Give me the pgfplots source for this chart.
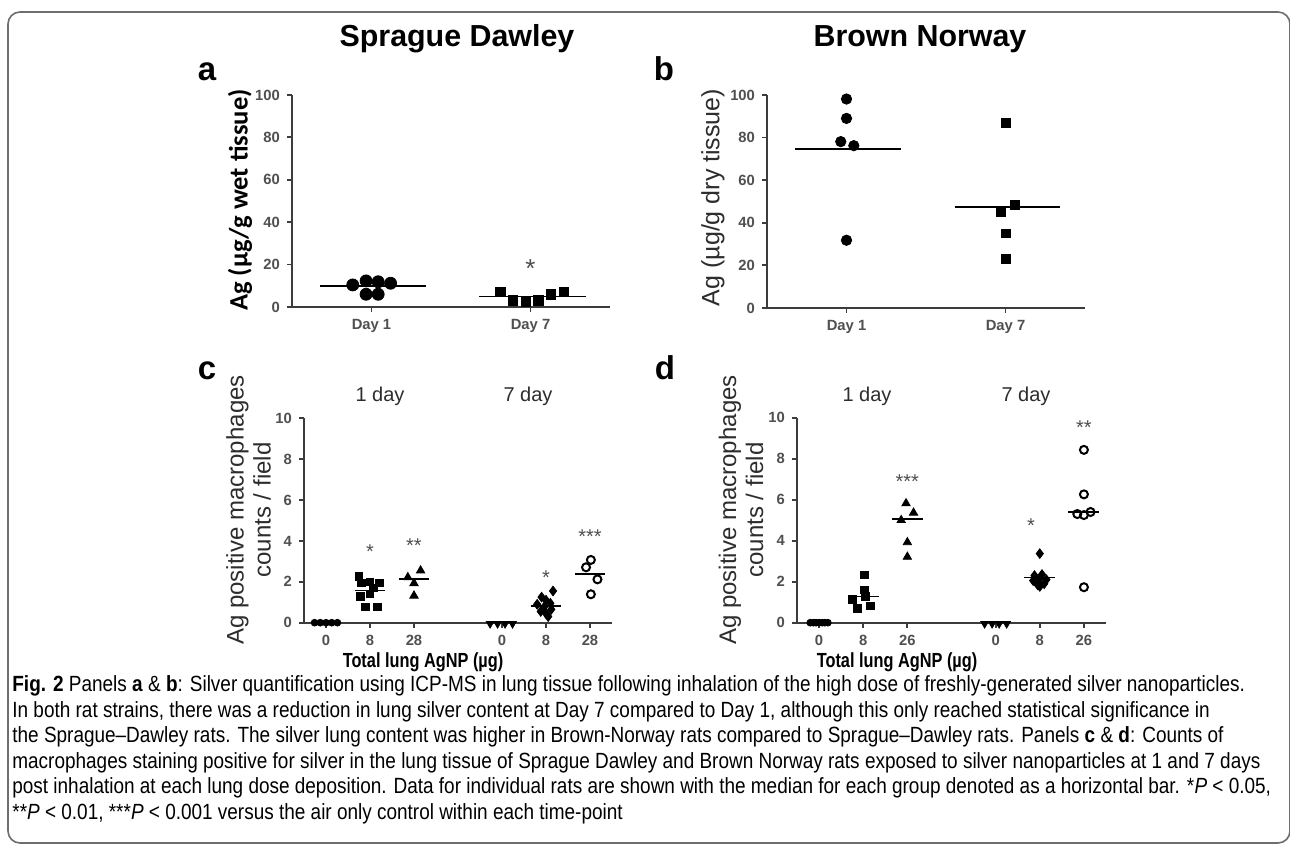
\documentclass[border=0pt]{standalone}
\usepackage{pgfplots}
\pgfplotsset{compat=1.18}
\usepackage{fontspec}
\setmainfont{Liberation Sans}
\newfontfamily\calibri{Carlito}
\newfontfamily\narrowfont[FakeStretch=0.8]{Liberation Sans}
\newfontfamily\capfont[FakeStretch=0.862]{Liberation Sans}
\definecolor{axgray}{RGB}{60,60,60}
\definecolor{tkgray}{RGB}{80,80,80}
\definecolor{labgray}{RGB}{45,45,45}
\definecolor{bordergray}{RGB}{110,110,110}
\pgfplotsset{
  panel/.style={
    scale only axis, anchor=south west, clip=false,
    axis lines*=left,
    axis line style={axgray, line width=1pt, -},
    tick style={axgray, line width=0.9pt},
    tick align=outside,
    major tick length=2.5pt,
    ymin=0,
    tick label style={font=\fontsize{7.4}{8}\selectfont\bfseries, text=tkgray},
    /pgf/number format/assume math mode=true,
  },
  med/.style={black, line width=0.9pt, no marks, forget plot},
  pts/.style={only marks, black, mark options={solid, draw=black, fill=black}},
  opn/.style={only marks, black, mark=o, mark options={solid, draw=black, line width=1pt}},
}
\newcommand{\st}[3]{\node[text=tkgray, font=\fontsize{#3}{#3}\selectfont, anchor=base, inner sep=0pt, yshift=-0.58*#3pt] at (axis cs:#1) {#2};}
\begin{document}
\begin{tikzpicture}
\clip (0,0) rectangle (645pt,427pt);
\useasboundingbox (0,0) rectangle (645pt,427pt);
\fill[white] (0,0) rectangle (645pt,427pt);

% panel a
\begin{axis}[panel, at={(146pt,273.5pt)}, width=159pt, height=106pt,
  xmin=0.5, xmax=2.5, ymax=100, xtick={1,2}, xticklabels={Day 1,Day 7}, ytick={0,20,...,100}]
\addplot[med] coordinates {(0.673,10.05)(1.34,10.05)};
\addplot[med] coordinates {(1.675,4.9)(2.35,4.9)};
\addplot[pts, mark=*, mark size=3pt] coordinates {(0.882,10.4)(0.966,12.3)(1.042,11.9)(1.12,11.2)(0.966,6.0)(1.042,6.0)};
\addplot[pts, mark=square*, mark size=2.4pt] coordinates {(1.81,7.2)(1.89,3.2)(1.97,2.4)(2.048,3.2)(2.128,5.9)(2.21,7.2)};
\st{2,21.1}{*}{13}
\end{axis}

% panel b
\begin{axis}[panel, at={(383.5pt,273pt)}, width=159pt, height=106.5pt,
  xmin=0.5, xmax=2.5, ymax=100, xtick={1,2}, xticklabels={Day 1,Day 7}, ytick={0,20,...,100}]
\addplot[med] coordinates {(0.675,74.6)(1.34,74.6)};
\addplot[med] coordinates {(1.68,47.5)(2.34,47.5)};
\addplot[pts, mark=*, mark size=2.6pt] coordinates {(1,98.1)(1,89.0)(0.964,78.1)(1.046,76.2)(1,31.8)};
\addplot[pts, mark=square*, mark size=2.2pt] coordinates {(2,87)(2.06,48.5)(1.97,45)(2,35)(2,23)};
\end{axis}

% panel c
\begin{axis}[panel, at={(152pt,115.65pt)}, width=154pt, height=102.2pt,
  xmin=0.5, xmax=7.5, ymax=10, xtick={1,2,3,5,6,7}, xticklabels={0,8,28,0,8,28}, ytick={0,2,...,10}]
\addplot[med] coordinates {(1.65,1.57)(2.35,1.57)};
\addplot[med] coordinates {(2.65,2.15)(3.35,2.15)};
\addplot[med] coordinates {(5.65,0.82)(6.35,0.82)};
\addplot[med] coordinates {(6.65,2.37)(7.35,2.37)};
\addplot[pts, mark=*, mark size=1.7pt] coordinates {(0.74,0)(0.87,0)(1,0)(1.13,0)(1.26,0)};
\addplot[pts, mark=square*, mark size=1.9pt] coordinates {(1.75,2.25)(1.8,1.95)(2.0,2.0)(2.22,1.95)(2.08,1.7)(1.78,1.3)(2.0,1.4)(1.89,0.78)(2.17,0.78)};
\addplot[pts, mark=triangle*, mark size=2.4pt] coordinates {(2.86,2.22)(3.15,2.55)(3.0,1.93)(3.0,1.32)};
\addplot[pts, mark=triangle*, mark size=2.2pt, mark options={rotate=180}] coordinates {(4.73,-0.05)(4.9,-0.05)(5.07,-0.05)(5.24,-0.05)};
\addplot[pts, mark=diamond*, mark size=2.4pt] coordinates {(6.16,1.55)(5.9,1.25)(6.0,1.1)(5.8,0.9)(6.1,0.95)(5.95,0.75)(6.12,0.65)(5.88,0.55)(6.0,0.45)(6.05,0.3)};
\addplot[opn, mark size=2pt] coordinates {(7.02,3.07)(6.91,2.71)(7.17,2.12)(7.02,1.39)};
\st{2,3.73}{*}{10}
\st{3,4.02}{**}{10}
\st{6,2.42}{*}{10}
\st{7,4.46}{***}{10}
\end{axis}

% panel d
\begin{axis}[panel, at={(398.5pt,115.65pt)}, width=154.5pt, height=102.5pt,
  xmin=0.5, xmax=7.5, ymax=10, xtick={1,2,3,5,6,7}, xticklabels={0,8,26,0,8,26}, ytick={0,2,...,10}]
\addplot[med] coordinates {(1.65,1.28)(2.35,1.28)};
\addplot[med] coordinates {(2.65,5.05)(3.35,5.05)};
\addplot[med] coordinates {(5.65,2.2)(6.35,2.2)};
\addplot[med] coordinates {(6.65,5.39)(7.35,5.39)};
\addplot[pts, mark=*, mark size=1.7pt] coordinates {(0.8,0)(0.87,0)(0.93,0)(1,0)(1.07,0)(1.13,0)(1.2,0)};
\addplot[pts, mark=square*, mark size=1.9pt] coordinates {(2.02,2.34)(2.02,1.6)(2.05,1.27)(1.75,1.15)(1.87,0.71)(2.16,0.82)};
\addplot[pts, mark=triangle*, mark size=2.4pt] coordinates {(2.97,5.82)(3.14,5.36)(2.86,5.0)(3.0,3.92)(3.0,3.21)};
\addplot[pts, mark=triangle*, mark size=2.2pt, mark options={rotate=180}] coordinates {(4.75,-0.05)(4.92,-0.05)(5.08,-0.05)(5.25,-0.05)};
\addplot[pts, mark=diamond*, mark size=2.4pt] coordinates {(6.0,3.37)(5.88,2.3)(6.05,2.35)(6.15,2.1)(5.85,2.05)(6.0,2.15)(6.1,1.9)(5.95,1.85)(6.0,1.77)};
\addplot[opn, mark size=2pt] coordinates {(7,8.43)(7,6.26)(6.85,5.3)(7,5.25)(7.15,5.4)(7,1.73)};
\st{3,7.1}{***}{10}
\st{5.8,4.98}{*}{10}
\st{7,9.77}{**}{10}
\end{axis}

\begin{scope}[x=0.5pt, y=-0.5pt, shift={(0pt,427pt)}]
\draw[bordergray, line width=0.8pt, rounded corners=6pt] (8,12) rectangle (1290,843);
% titles
\node[anchor=base, inner sep=0pt, font=\fontsize{15.2}{16}\selectfont\bfseries] at (457,47) {Sprague Dawley};
\node[anchor=base, inner sep=0pt, font=\fontsize{15.2}{16}\selectfont\bfseries] at (920,47) {Brown Norway};
% panel letters
\foreach \l/\px/\py in {a/207/81, b/664/81, c/207/380, d/665/380}
  \node[anchor=base, inner sep=0pt, font=\fontsize{16.5}{17}\selectfont\bfseries] at (\px,\py) {\l};
% y labels
\node[rotate=90, inner sep=0pt, font=\calibri\fontsize{13.3}{14}\selectfont\bfseries] at (240,200) {Ag (µg/g wet tissue)};
\node[rotate=90, inner sep=0pt, text=labgray, font=\fontsize{12.5}{13}\selectfont] at (713,197.5) {Ag (µg/g dry tissue)};
\node[rotate=90, inner sep=0pt, align=center, text=labgray, font=\fontsize{12}{13.5}\selectfont] at (248.5,510) {Ag positive macrophages\\counts / field};
\node[rotate=90, inner sep=0pt, align=center, text=labgray, font=\fontsize{12}{13.5}\selectfont] at (741,510) {Ag positive macrophages\\counts / field};
% day labels
\foreach \px/\t in {380/1 day, 528/7 day, 867/1 day, 1026/7 day}
  \node[anchor=base, inner sep=0pt, text=labgray, font=\fontsize{10}{11}\selectfont] at (\px,402) {\t};
% x labels
\node[anchor=base, inner sep=0pt, font=\narrowfont\fontsize{10.2}{11}\selectfont\bfseries] at (423,668) {Total lung AgNP (µg)};
\node[anchor=base, inner sep=0pt, font=\narrowfont\fontsize{10.2}{11}\selectfont\bfseries] at (897,668) {Total lung AgNP (µg)};
% caption
\begin{scope}[every node/.style={anchor=base west, inner sep=0pt, font=\capfont\fontsize{11}{12}\selectfont}]
\node at (12,692) {\textbf{Fig. 2} Panels \textbf{a} \& \textbf{b}: Silver quantification using ICP-MS in lung tissue following inhalation of the high dose of freshly-generated silver nanoparticles.};
\node at (12,717.5) {In both rat strains, there was a reduction in lung silver content at Day 7 compared to Day 1, although this only reached statistical significance in};
\node at (12,743) {the Sprague–Dawley rats. The silver lung content was higher in Brown-Norway rats compared to Sprague–Dawley rats. Panels \textbf{c} \& \textbf{d}: Counts of};
\node at (12,768.5) {macrophages staining positive for silver in the lung tissue of Sprague Dawley and Brown Norway rats exposed to silver nanoparticles at 1 and 7 days};
\node at (12,794) {post inhalation at each lung dose deposition. Data for individual rats are shown with the median for each group denoted as a horizontal bar. *\textit{P} < 0.05,};
\node at (12,819.5) {**\textit{P} < 0.01, ***\textit{P} < 0.001 versus the air only control within each time-point};
\end{scope}
\end{scope}
\end{tikzpicture}
\end{document}
